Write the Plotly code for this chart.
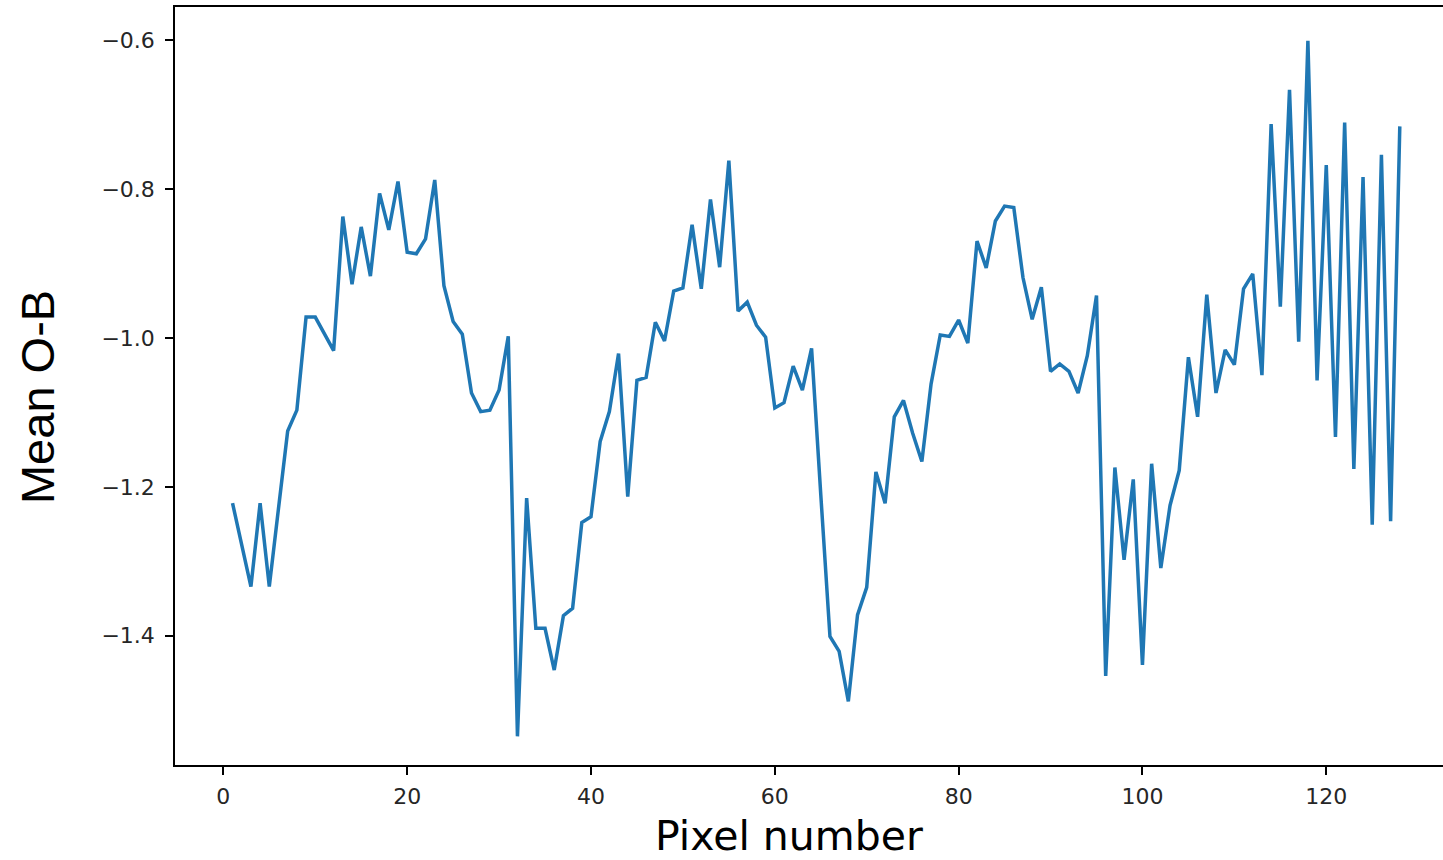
import plotly.graph_objects as go

pixel_number = list(range(1, 129))
mean_omb = [
    -1.222, -1.280, -1.334, -1.222, -1.334, -1.229, -1.125, -1.097, -0.972, -0.972,
    -0.995, -1.017, -0.837, -0.928, -0.851, -0.917, -0.806, -0.855, -0.790, -0.885,
    -0.887, -0.867, -0.788, -0.930, -0.978, -0.995, -1.074, -1.099, -1.097, -1.070,
    -0.998, -1.535, -1.215, -1.390, -1.390, -1.446, -1.373, -1.363, -1.248, -1.240,
    -1.139, -1.099, -1.021, -1.213, -1.057, -1.053, -0.979, -1.004, -0.937, -0.933,
    -0.848, -0.934, -0.814, -0.905, -0.762, -0.964, -0.952, -0.983, -0.999, -1.094,
    -1.087, -1.038, -1.070, -1.014, -1.210, -1.401, -1.421, -1.488, -1.372, -1.335,
    -1.180, -1.222, -1.106, -1.084, -1.128, -1.166, -1.062, -0.996, -0.998, -0.976,
    -1.007, -0.870, -0.906, -0.843, -0.823, -0.825, -0.919, -0.975, -0.932, -1.045,
    -1.035, -1.045, -1.074, -1.024, -0.943, -1.454, -1.174, -1.298, -1.190, -1.439,
    -1.169, -1.309, -1.225, -1.178, -1.026, -1.106, -0.942, -1.074, -1.016, -1.036,
    -0.934, -0.914, -1.050, -0.713, -0.958, -0.667, -1.005, -0.601, -1.057, -0.768,
    -1.133, -0.711, -1.176, -0.784, -1.251, -0.754, -1.246, -0.716,
]
x_ticks = [0, 20, 40, 60, 80, 100, 120]
y_ticks = [-1.4, -1.2, -1.0, -0.8, -0.6]
x_title = "Pixel number"
y_title = "Mean O-B"

fig = go.Figure()
fig.add_trace(go.Scatter(
    x=pixel_number, y=mean_omb, mode="lines",
    line=dict(color="#1f77b4", width=3.5),
    showlegend=False, hoverinfo="skip",
))

tick_font = dict(family="DejaVu Sans", size=22, color="#262626")

fig.update_layout(
    width=1443, height=860,
    margin=dict(l=175, r=0, t=7, b=95),
    paper_bgcolor="white", plot_bgcolor="white",
    xaxis=dict(
        range=[-5.26, 132.7], tickvals=x_ticks, ticks="outside", ticklen=8,
        tickwidth=1.5, tickcolor="black", showline=True, linecolor="black",
        linewidth=1.5, mirror=True, showgrid=False, zeroline=False,
        tickfont=tick_font, ticklabelstandoff=3,
    ),
    yaxis=dict(
        range=[-1.5735, -0.5557], tickvals=y_ticks, tickformat=".1f",
        ticks="outside", ticklen=8, tickwidth=1.5, tickcolor="black",
        showline=True, linecolor="black", linewidth=1.5, mirror=False,
        showgrid=False, zeroline=False, tickfont=tick_font,
        ticklabelstandoff=6,
    ),
    annotations=[
        dict(text=x_title, xref="paper", yref="paper", x=0.4842, y=-0.0937,
             xanchor="center", yanchor="middle", showarrow=False,
             font=dict(family="DejaVu Sans", size=41, color="black")),
        dict(text=y_title, xref="paper", yref="paper", x=-0.108, y=0.4855,
             xanchor="center", yanchor="middle", textangle=-90, showarrow=False,
             font=dict(family="Liberation Sans, Arial", size=47, color="black")),
    ],
)

fig.write_html(
    "out.html",
    config={"displayModeBar": False},
    post_script="document.body.style.margin='0';document.body.style.overflow='hidden';",
)
